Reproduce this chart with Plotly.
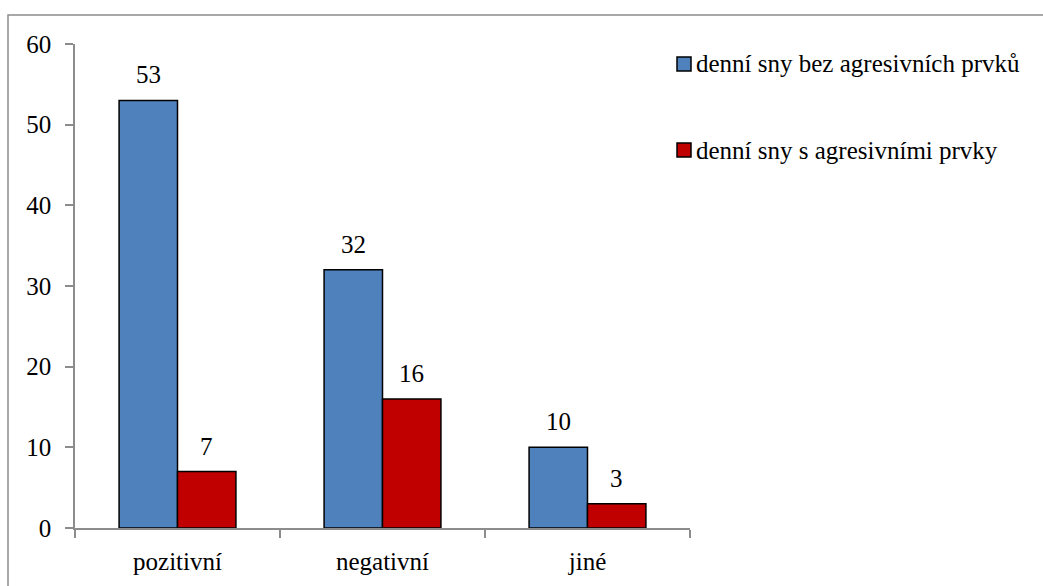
import plotly.graph_objects as go

# Daydream categories and counts
categories = ["pozitivní", "negativní", "jiné"]
series_names = ["denní sny bez agresivních prvků", "denní sny s agresivními prvky"]
values_bez = [53, 32, 10]
values_s = [7, 16, 3]
y_ticks = [0, 10, 20, 30, 40, 50, 60]

colors = ["#4F81BD", "#C00000"]
FONT = "Liberation Serif, Times New Roman, serif"
FS = 25
W, H = 1043, 586
L, R, T, B = 75, 353, 44, 58
plot_w = W - L - R
plot_h = H - T - B
BAR_OFFSET_PX = 29.2  # half of one bar's width within a group


def px_x(px):
    return (px - L) / plot_w


def px_y(py):
    return (H - B - py) / plot_h


fig = go.Figure()
for name, vals, col in zip(series_names, [values_bez, values_s], colors):
    fig.add_trace(go.Bar(
        x=categories, y=vals, name=name,
        marker=dict(color=col, line=dict(color="#000000", width=1.5)),
        showlegend=False,
    ))

# Value labels above each bar
for sign, vals in zip([-1, 1], [values_bez, values_s]):
    for cat, v in zip(categories, vals):
        fig.add_annotation(x=cat, y=v, xref="x", yref="y", text=str(v),
                           showarrow=False, xanchor="center", yanchor="bottom",
                           xshift=sign * BAR_OFFSET_PX, yshift=10,
                           font=dict(family=FONT, size=FS, color="#000000"))

axis_gray = "#8C8C8C"
fig.update_layout(
    width=W, height=H,
    margin=dict(l=L, r=R, t=T, b=B, pad=0),
    paper_bgcolor="white", plot_bgcolor="white",
    barmode="group", bargap=0.43, bargroupgap=0,
    font=dict(family=FONT, size=FS, color="#000000"),
    xaxis=dict(
        range=[-0.5, 2.5], showline=True, linecolor=axis_gray, linewidth=1.5,
        ticks="outside", tickson="boundaries", ticklen=8, tickcolor=axis_gray,
        tickwidth=1.5, showgrid=False, zeroline=False,
        tickfont=dict(family=FONT, size=FS), ticklabelstandoff=10,
    ),
    yaxis=dict(
        range=[0, 60], tickvals=y_ticks, showline=True, linecolor=axis_gray,
        linewidth=1.5, ticks="outside", ticklen=8, tickcolor=axis_gray,
        tickwidth=1.5, showgrid=False, zeroline=False,
        tickfont=dict(family=FONT, size=FS), ticklabelstandoff=9,
    ),
)

# Chart frame
fig.add_shape(type="rect", xref="paper", yref="paper",
              x0=px_x(8), x1=px_x(1060), y0=px_y(600), y1=px_y(15),
              line=dict(color=axis_gray, width=1.5), fillcolor="rgba(0,0,0,0)",
              layer="below")

# Legend entries
legend_rows = [64, 150]
for name, col, cy in zip(series_names, colors, legend_rows):
    fig.add_shape(type="rect", xref="paper", yref="paper",
                  x0=px_x(677), x1=px_x(691), y0=px_y(cy + 7), y1=px_y(cy - 7),
                  line=dict(color="#000000", width=1.5), fillcolor=col)
    fig.add_annotation(xref="paper", yref="paper", x=px_x(694), y=px_y(cy),
                       xanchor="left", yanchor="middle", showarrow=False,
                       text=name, font=dict(family=FONT, size=FS, color="#000000"))

fig.write_html("out.html")
